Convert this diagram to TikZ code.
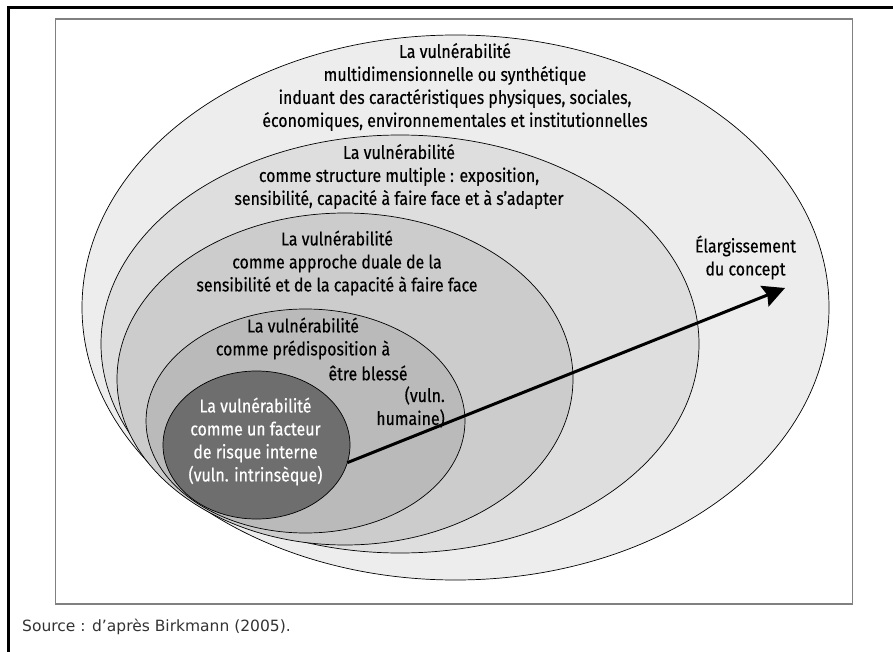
\documentclass[tikz,border=0pt]{standalone}
\usepackage{fontspec}
\setmainfont{Fira Sans}[FakeStretch=0.86,FakeBold=0.4]
\newfontfamily\srcfont{DejaVu Sans}
\usetikzlibrary{shapes.geometric,arrows.meta}

\definecolor{ringA}{gray}{0.93}
\definecolor{ringB}{gray}{0.87}
\definecolor{ringC}{gray}{0.80}
\definecolor{ringD}{gray}{0.73}
\definecolor{ringE}{gray}{0.43}

\tikzset{
  ring/.style={ellipse,draw=black,line width=0.7pt,inner sep=0pt,outer sep=0pt},
  txt/.style={align=center,inner sep=0pt,font=\fontsize{18.5}{23}\selectfont}
}

\begin{document}
\begin{tikzpicture}[x=1pt,y=-1pt]

\useasboundingbox (0,0) rectangle (893,652);

% frames
\draw[line width=3pt] (8,652) -- (8,7.5) -- (893,7.5);
\draw[gray,line width=1.2pt] (55.5,19) rectangle (852.5,604);

% outer ellipse node
\node[ring,fill=ringA,minimum width=747pt,minimum height=545pt] (multi) at (455.5,307.5) {};
\node[txt] (multi text) at (455,87) {La vulnérabilité\\multidimensionnelle ou synthétique\\induant des caractéristiques physiques, sociales,\\économiques, environnementales et institutionnelles};

% structure ellipse node
\node[ring,fill=ringB,minimum width=598pt,minimum height=418pt] (struct) at (400,344) {};
\node[txt] (struct text) at (399,176.5) {La vulnérabilité\\comme structure multiple : exposition,\\sensibilité, capacité à faire face et à s’adapter};

% duale ellipse node
\node[ring,fill=ringC,minimum width=456pt,minimum height=332pt] (duale) at (345,379) {};
\node[txt] (duale text) at (337,263) {La vulnérabilité\\comme approche duale de la\\sensibilité et de la capacité à faire face};

% predisposition ellipse node
\node[ring,fill=ringD,minimum width=319pt,minimum height=224pt] (predis) at (305.5,421) {};
\node[txt] (predis text) at (303,338.5) {La vulnérabilité\\comme prédisposition à};
\node[txt] (blesse) at (368,373) {être blessé};
\node[txt,align=right,anchor=east] (humaine) at (445,407) {(vuln.\\humaine)};

% intrinsic ellipse node
\node[ring,fill=ringE,minimum width=187pt,minimum height=148pt] (intr) at (256.5,445) {};
\node[txt,white] (intr text) at (255.5,441.5) {La vulnérabilité\\comme un facteur\\de risque interne\\(vuln. intrinsèque)};

% broadening arrow
\coordinate (tip) at (785,288);
\node[txt] (concept) at (745.5,257.5) {Élargissement\\du concept};
\draw[line width=3pt,-{Stealth[length=22pt,width=22pt,inset=3pt]}] (intr.-11) -- (tip);

% source
\node[anchor=west,inner sep=0pt,font=\srcfont\fontsize{15.5}{18}\selectfont,text=black!80] (source) at (22,627) {Source : d’après Birkmann (2005).};

\end{tikzpicture}
\end{document}
